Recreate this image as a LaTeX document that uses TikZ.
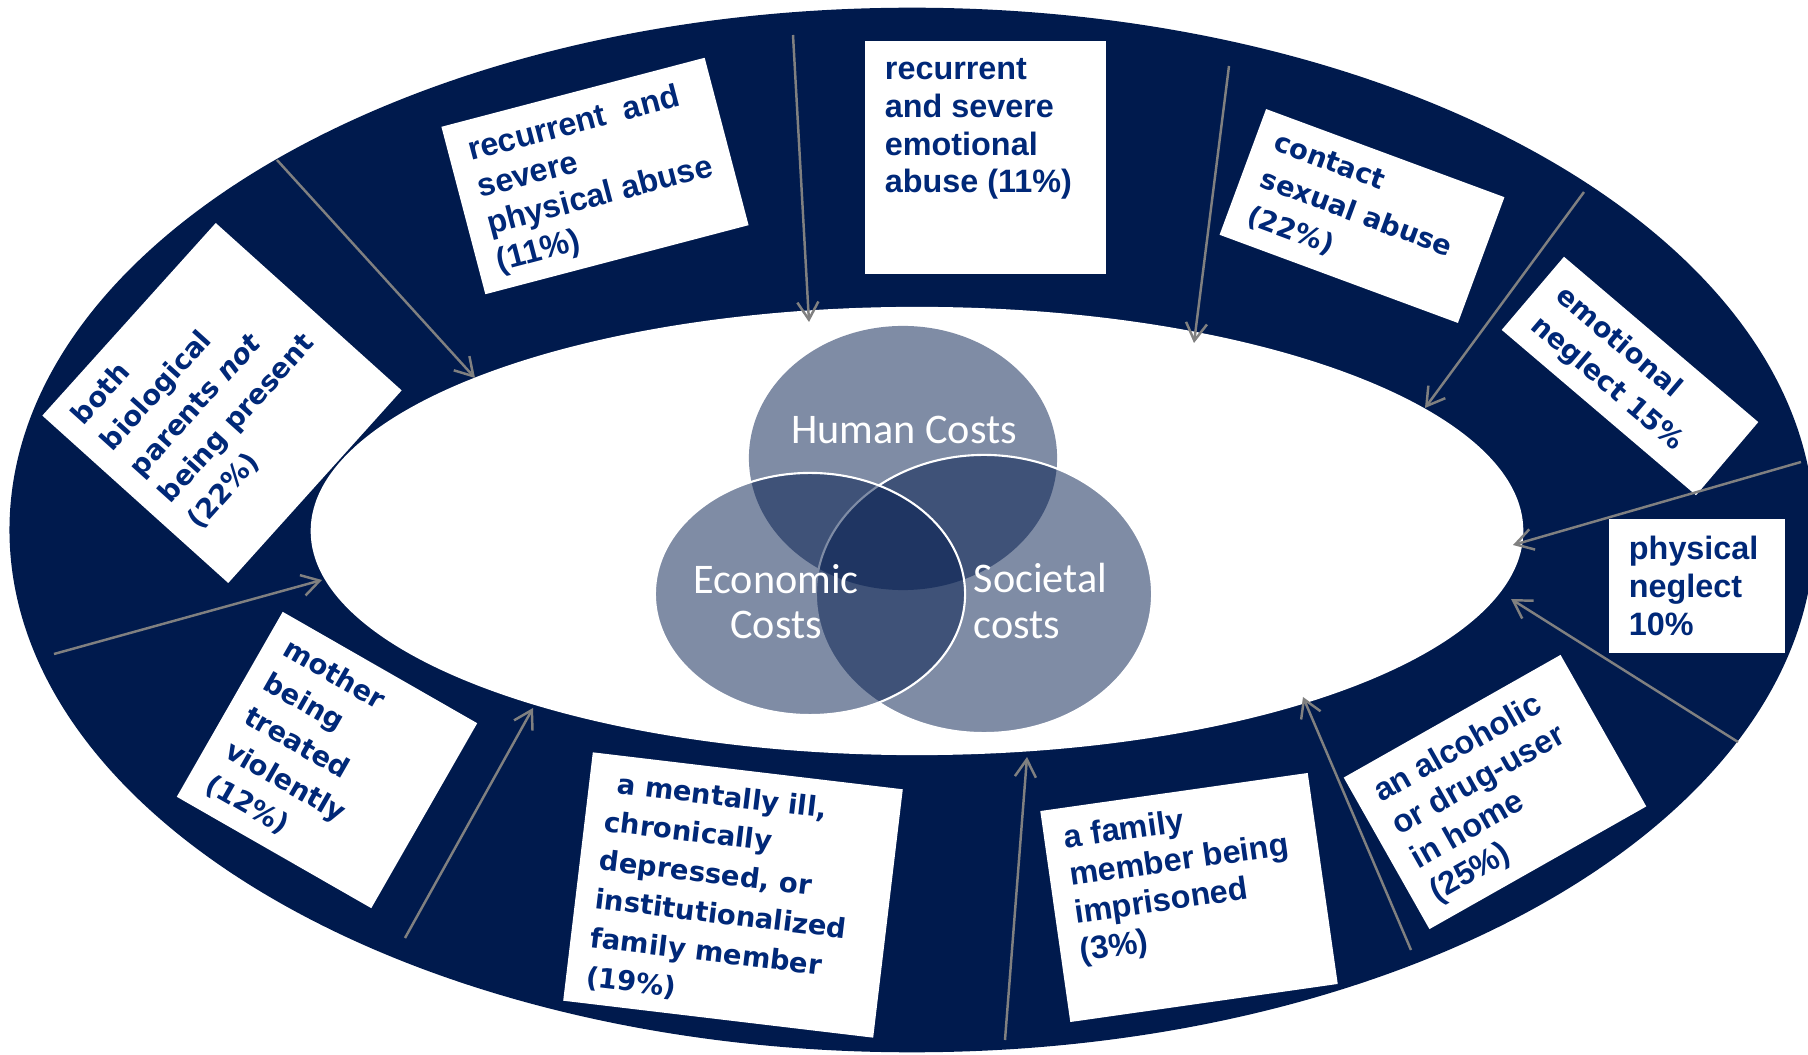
\documentclass[tikz,border=0pt]{standalone}
\usepackage{fontspec}
\usepackage{tikz}
\usetikzlibrary{arrows.meta}
\newfontfamily\boxfont{Liberation Sans}
\newfontfamily\widefont{DejaVu Sans}
\newfontfamily\vennfont{Carlito}
\definecolor{ringblue}{RGB}{0,26,77}
\definecolor{boxtext}{RGB}{0,40,120}
\definecolor{arrowgray}{RGB}{128,128,128}
\tikzset{
  riskbox/.style = {fill=white, inner sep=0pt},
  risktext/.style = {anchor=north west, align=left, inner xsep=0.2cm, inner ysep=0.17cm,
    text=boxtext, font=\boxfont\bfseries\fontsize{9.2}{10.8}\selectfont},
  widetext/.style = {risktext, font=\widefont\bfseries\fontsize{7.8}{11.1}\selectfont},
  vennlabel/.style = {text=white, inner sep=0pt, font=\vennfont\fontsize{12}{12.8}\selectfont},
  feed/.style = {draw=arrowgray, line width=0.7pt, -{Straight Barb[length=5pt,width=6pt]}}
}
\begin{document}
\begin{tikzpicture}[x=0.01cm, y=-0.01cm]
    \useasboundingbox (0,0) rectangle (1808,1055);
    \fill[white] (0,0) rectangle (1808,1055);
    % ring
    \fill[ringblue] (912,530) ellipse [x radius=9.02cm, y radius=5.22cm];
    \fill[white] (917,531) ellipse [x radius=6.06cm, y radius=2.24cm];
    % venn
    \fill[ringblue, fill opacity=0.5] (903,458) ellipse [x radius=1.54cm, y radius=1.32cm];
    \filldraw[fill=ringblue, fill opacity=0.5, draw=white, line width=0.6pt]
      (984,594) ellipse [x radius=1.68cm, y radius=1.39cm];
    \filldraw[fill=ringblue, fill opacity=0.5, draw=white, line width=0.6pt]
      (810,594) ellipse [x radius=1.55cm, y radius=1.21cm];
    \node[vennlabel, anchor=base] (human) at (904,444) {Human Costs};
    \node[vennlabel, align=center] (econ) at (776,602) {Economic\\Costs};
    \node[vennlabel, align=left, anchor=west] (soc) at (973,601) {Societal\\costs};
    % boxes
    \node[riskbox, minimum width=2.72cm, minimum height=1.73cm, rotate=14.7] (phys) at (595,176) {};
    \node[risktext, rotate=14.7] (phys-t) at (phys.north west) {recurrent \ and\\severe\\physical abuse\\(11\%)};
    \node[riskbox, minimum width=2.41cm, minimum height=2.33cm] (emo) at (985.5,157.5) {};
    \node[risktext] (emo-t) at (emo.north west) {recurrent\\and severe\\emotional\\abuse (11\%)};
    \node[riskbox, minimum width=2.54cm, minimum height=1.34cm, rotate=-20.3] (sex) at (1362,216) {};
    \node[widetext, rotate=-20.3] (sex-t) at (sex.north west) {contact\\sexual abuse\\(22\%)};
    \node[riskbox, minimum width=2.55cm, minimum height=0.96cm, rotate=-40.4] (eneg) at (1630,376) {};
    \node[widetext, rotate=-40.4] (eneg-t) at (eneg.north west) {emotional\\neglect 15\%};
    \node[riskbox, minimum width=1.76cm, minimum height=1.34cm] (pneg) at (1697,586) {};
    \node[risktext] (pneg-t) at (pneg.north west) {physical\\neglect\\10\%};
    \node[riskbox, minimum width=2.49cm, minimum height=1.74cm, rotate=29.5] (alc) at (1495,792) {};
    \node[risktext, rotate=29.5] (alc-t) at (alc.north west) {an alcoholic\\or drug-user\\in home\\(25\%)};
    \node[riskbox, minimum width=2.70cm, minimum height=2.13cm, rotate=8.1] (jail) at (1189,897.5) {};
    \node[risktext, rotate=8.1] (jail-t) at (jail.north west) {a family\\member being\\imprisoned\\(3\%)};
    \node[riskbox, minimum width=3.12cm, minimum height=2.50cm, rotate=-6.8] (ill) at (733,895) {};
    \node[widetext, rotate=-6.8] (ill-t) at (ill.north west) {\hspace*{0.08cm}a mentally ill,\\chronically\\depressed, or\\institutionalized\\family member\\(19\%)};
    \node[riskbox, minimum width=2.24cm, minimum height=2.13cm, rotate=-29.8] (mom) at (327,760) {};
    \node[widetext, rotate=-29.8] (mom-t) at (mom.north west) {mother\\being\\treated\\violently\\(12\%)};
    \node[riskbox, minimum width=2.59cm, minimum height=2.50cm, rotate=48] (par) at (222,403) {};
    \node[widetext, rotate=48] (par-t) at (par.north west) {both\\biological\\parents \textit{not}\\being present\\(22\%)};
    % arrows
    \coordinate (a1) at (277,160);   \coordinate (a2) at (475,378);
    \coordinate (b1) at (793,35);    \coordinate (b2) at (809,322);
    \coordinate (c1) at (1229,66);   \coordinate (c2) at (1194,343);
    \coordinate (d1) at (1584,192);  \coordinate (d2) at (1425,408);
    \coordinate (e1) at (1801,462);  \coordinate (e2) at (1513,545);
    \coordinate (f1) at (1738,742);  \coordinate (f2) at (1511,599);
    \coordinate (g1) at (1411,950);  \coordinate (g2) at (1303,697);
    \coordinate (h1) at (1005,1040); \coordinate (h2) at (1027,757);
    \coordinate (i1) at (405,938);   \coordinate (i2) at (533,708);
    \coordinate (j1) at (54,654);    \coordinate (j2) at (322,580);
    \draw[feed] (a1) -- (a2);
    \draw[feed] (b1) -- (b2);
    \draw[feed] (c1) -- (c2);
    \draw[feed] (d1) -- (d2);
    \draw[feed] (e1) -- (e2);
    \draw[feed] (f1) -- (f2);
    \draw[feed] (g1) -- (g2);
    \draw[feed] (h1) -- (h2);
    \draw[feed] (i1) -- (i2);
    \draw[feed] (j1) -- (j2);
\end{tikzpicture}
\end{document}
